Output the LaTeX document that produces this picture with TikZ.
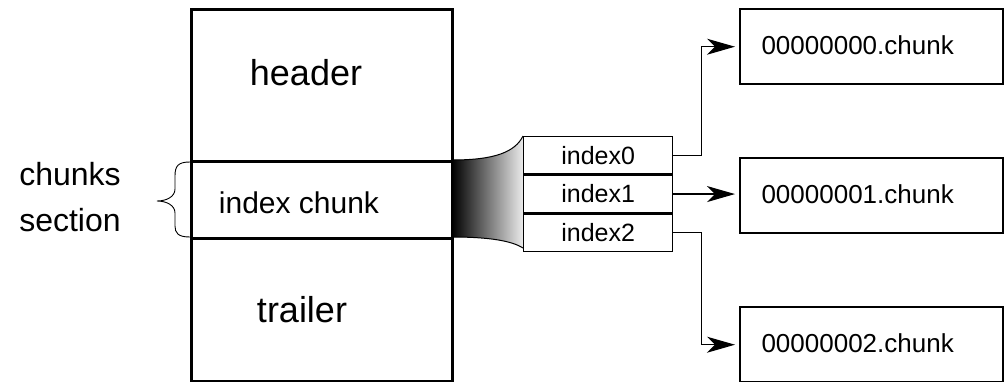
\documentclass[tikz,border=0pt]{standalone}
\usepackage{fontspec}
\setmainfont{Liberation Sans}
\usetikzlibrary{arrows.meta}
\begin{document}
\begin{tikzpicture}[x=1pt,y=-1pt,
  thickbox/.style={draw, line width=2.6pt, inner sep=0pt},
  idxbox/.style={draw, line width=1.4pt, minimum width=149, minimum height=37.3, inner sep=0pt, font=\fontsize{25}{28}\selectfont},
  chunkbox/.style={draw, line width=2.4pt, minimum width=263, minimum height=75, inner sep=0pt},
  arr/.style={line width=1.2pt, -{Stealth[length=28pt,width=16pt,inset=8pt]}},
  big/.style={font=\fontsize{36}{40}\selectfont},
  mid/.style={font=\fontsize{30}{34}\selectfont},
  label/.style={font=\fontsize{32}{46}\selectfont, align=center},
  chunktext/.style={font=\fontsize{26}{30}\selectfont, anchor=west}]
\useasboundingbox (0,0) rectangle (1007,381);

% file layout: one tall block with the chunk section marked inside
\node[thickbox, minimum width=261, minimum height=372, anchor=north west] (file) at (190,8) {};
\node[thickbox, minimum width=261, minimum height=77, anchor=north west] (ichunk) at (190,160) {};
\node[big] (header) at (306,73) {header};
\node[big] (trailer) at (302,310) {trailer};
\node[mid] at (299,203) {index chunk};

% brace and its label
\node[label] (section) at (70,197) {chunks\\section};
\draw[line width=0.9pt] (ichunk.north west) ++(0,2)
  .. controls (178,162) and (175,166) .. (175,176) -- (175,189)
  .. controls (175,197) and (166,201) .. (157,201)
  .. controls (166,201) and (175,205) .. (175,213) -- (175,226)
  .. controls (175,233) and (178,237) .. (190,237);

% funnel widening from the index chunk to its entries
\shade[left color=black, right color=black!8]
  (452,160) .. controls (495,160) and (515,152) .. (523,136) -- (523,248)
  .. controls (512,241) and (490,237) .. (452,237) -- cycle;
\draw[line width=1pt] (452,160) .. controls (495,160) and (515,152) .. (523,136);
\draw[line width=1pt] (452,237) .. controls (490,237) and (512,241) .. (523,248);

% index entries
\node[idxbox, anchor=north west] (i0) at (523,136) {index0};
\node[idxbox, anchor=north] (i1) at (i0.south) {index1};
\node[idxbox, anchor=north] (i2) at (i1.south) {index2};

% chunk files
\node[chunkbox, anchor=north west] (c0) at (739,8) {};
\node[chunkbox, anchor=north west] (c1) at (739,157) {};
\node[chunkbox, anchor=north west] (c2) at (739,306) {};
\node[chunktext] at (758,45) {00000000.chunk};
\node[chunktext] at (758,194) {00000001.chunk};
\node[chunktext] at (758,343) {00000002.chunk};

% references from the index entries to the chunk files
\draw[arr, shorten >=4pt] (i0.east) -- ++(28,0) |- (c0.west);
\draw[arr, shorten >=4pt] (i1.east) -- (c1.west |- i1.east);
\draw[arr, shorten >=4pt] (i2.east) -- ++(28,0) |- (c2.west);
\end{tikzpicture}
\end{document}
